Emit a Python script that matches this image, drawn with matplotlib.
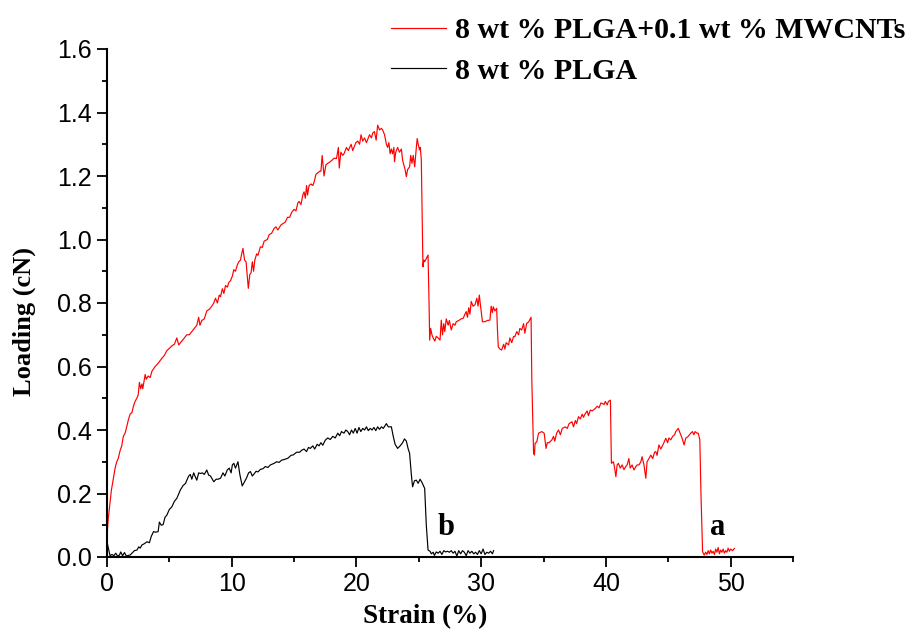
import matplotlib
matplotlib.use("Agg")
import matplotlib.pyplot as plt
from matplotlib.ticker import MultipleLocator

# ---- data: 8 wt % PLGA + 0.1 wt % MWCNTs (curve a) ----
red_strain = [0.00, 0.10, 0.24, 0.35, 0.50, 0.65, 0.78, 0.90, 1.05, 1.18, 1.31, 1.45, 1.58, 1.70, 1.85, 2.00,
              2.12, 2.25, 2.39, 2.50, 2.60, 2.70, 2.80, 2.87, 3.00, 3.06, 3.15, 3.30, 3.46, 3.60, 3.86, 4.10,
              4.40, 4.60, 4.80, 4.94, 5.20, 5.40, 5.60, 5.75, 6.00, 6.20, 6.40, 6.60, 6.80, 7.00, 7.20, 7.35,
              7.45, 7.60, 7.80, 8.00, 8.20, 8.40, 8.56, 8.70, 8.85, 9.00, 9.10, 9.25, 9.37, 9.50, 9.65, 9.77,
              9.90, 10.05, 10.17, 10.30, 10.45, 10.57, 10.70, 10.80, 10.90, 11.03, 11.15, 11.33, 11.45, 11.55,
              11.65, 11.75, 11.85, 12.00, 12.10, 12.30, 12.45, 12.60, 12.86, 13.00, 13.20, 13.40, 13.55, 13.70,
              13.93, 14.10, 14.30, 14.47, 14.65, 14.80, 15.00, 15.15, 15.30, 15.40, 15.55, 15.70, 15.80, 15.90,
              16.00, 16.08, 16.20, 16.35, 16.50, 16.60, 16.75, 16.90, 17.05, 17.15, 17.25, 17.40, 17.55, 17.70,
              17.90, 18.05, 18.20, 18.40, 18.55, 18.62, 18.75, 18.90, 19.00, 19.20, 19.35, 19.57, 19.70, 19.80,
              19.95, 20.10, 20.25, 20.37, 20.50, 20.65, 20.80, 20.90, 21.05, 21.20, 21.30, 21.44, 21.58, 21.70,
              21.85, 22.00, 22.10, 22.25, 22.40, 22.50, 22.60, 22.70, 22.80, 22.90, 23.00, 23.05, 23.15, 23.30,
              23.45, 23.60, 23.70, 23.80, 23.90, 24.00, 24.10, 24.26, 24.35, 24.45, 24.55, 24.67, 24.80, 24.87,
              24.95, 25.06, 25.12, 25.20, 25.33, 25.40, 25.47, 25.60, 25.74, 25.82, 25.87, 25.95, 26.05, 26.15,
              26.28, 26.40, 26.55, 26.70, 26.80, 26.90, 27.00, 27.08, 27.20, 27.35, 27.45, 27.60, 27.75, 27.90,
              28.00, 28.20, 28.40, 28.56, 28.70, 28.80, 28.90, 29.00, 29.10, 29.20, 29.35, 29.50, 29.65, 29.75,
              29.85, 29.95, 30.10, 30.30, 30.50, 30.70, 30.80, 30.90, 30.97, 31.10, 31.24, 31.30, 31.37, 31.50,
              31.64, 31.80, 31.90, 32.00, 32.20, 32.30, 32.45, 32.60, 32.70, 32.85, 33.00, 33.10, 33.25, 33.40,
              33.50, 33.65, 33.80, 34.00, 34.06, 34.20, 34.27, 34.32, 34.46, 34.60, 34.86, 35.05, 35.20, 35.30,
              35.45, 35.67, 35.80, 35.90, 36.05, 36.20, 36.35, 36.50, 36.74, 36.90, 37.05, 37.28, 37.40, 37.55,
              37.65, 37.80, 37.95, 38.10, 38.20, 38.35, 38.50, 38.60, 38.75, 38.90, 39.15, 39.30, 39.45, 39.60,
              39.70, 39.85, 39.95, 40.10, 40.20, 40.36, 40.44, 40.60, 40.70, 40.80, 40.90, 41.00, 41.15, 41.30,
              41.45, 41.57, 41.70, 41.84, 41.95, 42.10, 42.25, 42.40, 42.50, 42.65, 42.80, 42.90, 43.05, 43.20,
              43.30, 43.45, 43.60, 43.75, 43.90, 44.00, 44.10, 44.25, 44.40, 44.50, 44.65, 44.80, 44.95, 45.05,
              45.20, 45.35, 45.50, 45.60, 45.70, 45.80, 45.95, 46.10, 46.27, 46.40, 46.60, 46.80, 46.94, 47.05,
              47.15, 47.30, 47.40, 47.53, 47.62, 47.75, 47.88, 48.00, 48.10, 48.20, 48.30, 48.40, 48.50, 48.60,
              48.70, 48.80, 48.90, 49.00, 49.10, 49.20, 49.30, 49.40, 49.50, 49.60, 49.70, 49.80, 49.90, 50.00,
              50.15, 50.30]
red_load = [0.065, 0.12, 0.17, 0.21, 0.245, 0.28, 0.30, 0.31, 0.335, 0.35, 0.38, 0.39, 0.41, 0.43, 0.45, 0.455,
            0.475, 0.49, 0.50, 0.51, 0.55, 0.53, 0.545, 0.53, 0.56, 0.575, 0.56, 0.57, 0.565, 0.585, 0.60, 0.61,
            0.626, 0.635, 0.65, 0.655, 0.665, 0.67, 0.69, 0.668, 0.68, 0.69, 0.70, 0.70, 0.71, 0.72, 0.73, 0.755,
            0.73, 0.745, 0.75, 0.775, 0.78, 0.79, 0.80, 0.815, 0.80, 0.825, 0.82, 0.845, 0.83, 0.855, 0.85, 0.865,
            0.87, 0.885, 0.905, 0.90, 0.92, 0.93, 0.935, 0.955, 0.972, 0.935, 0.93, 0.846, 0.89, 0.895,
            0.93, 0.90, 0.935, 0.955, 0.95, 0.977, 0.975, 0.995, 1.00, 1.015, 1.02, 1.035, 1.04, 1.03,
            1.045, 1.05, 1.055, 1.07, 1.07, 1.085, 1.095, 1.09, 1.115, 1.12, 1.11, 1.14, 1.15, 1.13,
            1.17, 1.14, 1.17, 1.175, 1.17, 1.18, 1.205, 1.21, 1.215, 1.215, 1.265, 1.20, 1.235, 1.24,
            1.245, 1.25, 1.256, 1.255, 1.29, 1.225, 1.275, 1.265, 1.27, 1.29, 1.28, 1.30, 1.28, 1.29,
            1.305, 1.31, 1.30, 1.33, 1.31, 1.32, 1.305, 1.315, 1.33, 1.32, 1.335, 1.34, 1.313, 1.36,
            1.345, 1.35, 1.345, 1.33, 1.30, 1.29, 1.305, 1.27, 1.285, 1.27, 1.29, 1.245, 1.275, 1.29,
            1.275, 1.285, 1.25, 1.235, 1.22, 1.198, 1.22, 1.229, 1.265, 1.24, 1.265, 1.229, 1.29, 1.318,
            1.30, 1.282, 1.29, 1.25, 0.914, 0.935, 0.93, 0.94, 0.951, 0.80, 0.683, 0.72, 0.70, 0.69,
            0.68, 0.695, 0.69, 0.683, 0.746, 0.70, 0.735, 0.71, 0.75, 0.73, 0.745, 0.715, 0.735, 0.73,
            0.741, 0.745, 0.75, 0.752, 0.765, 0.773, 0.755, 0.785, 0.765, 0.805, 0.79, 0.794, 0.815, 0.79,
            0.825, 0.79, 0.741, 0.741, 0.745, 0.746, 0.79, 0.77, 0.788, 0.775, 0.783, 0.72, 0.662, 0.655,
            0.652, 0.67, 0.655, 0.675, 0.668, 0.69, 0.675, 0.695, 0.694, 0.71, 0.70, 0.72, 0.715, 0.735,
            0.705, 0.736, 0.74, 0.755, 0.557, 0.327, 0.321, 0.358, 0.363, 0.39, 0.395, 0.39, 0.342, 0.36,
            0.36, 0.369, 0.38, 0.365, 0.39, 0.40, 0.385, 0.405, 0.41, 0.405, 0.42, 0.426, 0.41, 0.43,
            0.42, 0.442, 0.435, 0.45, 0.44, 0.452, 0.46, 0.445, 0.463, 0.46, 0.468, 0.475, 0.47, 0.485,
            0.484, 0.48, 0.49, 0.479, 0.49, 0.494, 0.295, 0.30, 0.28, 0.253, 0.29, 0.295, 0.28, 0.29,
            0.275, 0.284, 0.29, 0.31, 0.28, 0.29, 0.274, 0.285, 0.29, 0.29, 0.30, 0.316, 0.29, 0.248,
            0.30, 0.31, 0.321, 0.31, 0.33, 0.332, 0.32, 0.353, 0.34, 0.348, 0.36, 0.374, 0.36, 0.375,
            0.369, 0.38, 0.385, 0.395, 0.40, 0.405, 0.39, 0.375, 0.353, 0.374, 0.38, 0.39, 0.395, 0.385,
            0.395, 0.39, 0.39, 0.369, 0.20, 0.017, 0.006, 0.015, 0.008, 0.02, 0.01, 0.022, 0.012, 0.018,
            0.008, 0.025, 0.015, 0.03, 0.01, 0.022, 0.015, 0.025, 0.012, 0.02, 0.015, 0.028, 0.018, 0.025,
            0.02, 0.027]

# ---- data: 8 wt % PLGA (curve b) ----
black_strain = [0.00, 0.10, 0.24, 0.40, 0.55, 0.70, 0.85, 1.00, 1.10, 1.25, 1.40, 1.55, 1.70, 1.85, 2.00, 2.20,
                2.40, 2.55, 2.66, 2.80, 3.00, 3.20, 3.40, 3.55, 3.73, 3.90, 4.10, 4.20, 4.35, 4.50, 4.65, 4.80,
                5.00, 5.20, 5.40, 5.60, 5.88, 6.10, 6.30, 6.40, 6.55, 6.68, 6.80, 6.95, 7.05, 7.20, 7.35, 7.49,
                7.65, 7.80, 8.00, 8.15, 8.30, 8.56, 8.75, 8.90, 9.10, 9.30, 9.45, 9.64, 9.80, 9.95, 10.05, 10.17,
                10.30, 10.50, 10.65, 10.84, 11.00, 11.20, 11.35, 11.50, 11.65, 11.80, 11.95, 12.10, 12.30, 12.50,
                12.70, 12.90, 13.10, 13.40, 13.60, 13.80, 14.00, 14.20, 14.50, 14.75, 14.95, 15.20, 15.45, 15.60,
                15.80, 16.00, 16.15, 16.30, 16.50, 16.65, 16.85, 17.00, 17.15, 17.30, 17.50, 17.70, 17.90, 18.10,
                18.30, 18.50, 18.65, 18.80, 19.00, 19.15, 19.30, 19.45, 19.60, 19.75, 19.90, 20.05, 20.20, 20.35,
                20.50, 20.65, 20.80, 20.95, 21.10, 21.25, 21.40, 21.55, 21.70, 21.85, 22.00, 22.15, 22.40, 22.55,
                22.80, 22.95, 23.10, 23.30, 23.50, 23.70, 23.85, 24.00, 24.15, 24.26, 24.40, 24.50, 24.65, 24.80,
                24.95, 25.10, 25.25, 25.47, 25.60, 25.74, 25.90, 26.00, 26.15, 26.25, 26.40, 26.55, 26.70, 26.85,
                27.00, 27.15, 27.30, 27.45, 27.60, 27.75, 27.90, 28.05, 28.20, 28.35, 28.50, 28.65, 28.80, 28.95,
                29.10, 29.25, 29.40, 29.55, 29.70, 29.85, 30.00, 30.15, 30.30, 30.45, 30.60, 30.75, 30.90, 31.00]
black_load = [0.048, 0.03, 0.004, 0.008, 0.004, 0.012, 0.003, 0.006, 0.016, 0.004, 0.014, 0.003, 0.005, 0.006, 0.012, 0.02,
              0.022, 0.032, 0.028, 0.038, 0.042, 0.048, 0.045, 0.065, 0.08, 0.078, 0.08, 0.11, 0.10, 0.102, 0.125, 0.132,
              0.15, 0.158, 0.175, 0.185, 0.211, 0.225, 0.232, 0.242, 0.255, 0.26, 0.245, 0.265, 0.255, 0.242, 0.265, 0.263,
              0.265, 0.26, 0.274, 0.258, 0.255, 0.237, 0.245, 0.245, 0.248, 0.265, 0.255, 0.274, 0.28, 0.265, 0.29, 0.295,
              0.28, 0.30, 0.26, 0.224, 0.235, 0.25, 0.265, 0.269, 0.255, 0.262, 0.27, 0.268, 0.276, 0.278,
              0.285, 0.282, 0.29, 0.295, 0.30, 0.298, 0.305, 0.307, 0.311, 0.32, 0.322, 0.33, 0.33, 0.336,
              0.34, 0.332, 0.345, 0.342, 0.35, 0.34, 0.355, 0.35, 0.36, 0.352, 0.368, 0.375, 0.37, 0.38,
              0.375, 0.39, 0.382, 0.395, 0.39, 0.40, 0.395, 0.385, 0.40, 0.39, 0.405, 0.39, 0.408, 0.395,
              0.405, 0.40, 0.41, 0.398, 0.405, 0.40, 0.408, 0.398, 0.41, 0.402, 0.41, 0.405, 0.42, 0.41,
              0.41, 0.38, 0.355, 0.342, 0.35, 0.36, 0.372, 0.365, 0.34, 0.327, 0.26, 0.221, 0.24, 0.242,
              0.232, 0.245, 0.235, 0.216, 0.10, 0.022, 0.018, 0.01, 0.015, 0.005, 0.016, 0.012, 0.018, 0.008,
              0.02, 0.016, 0.018, 0.015, 0.02, 0.012, 0.018, 0.003, 0.02, 0.01, 0.02, 0.015, 0.004, 0.02,
              0.012, 0.018, 0.01, 0.015, 0.008, 0.02, 0.01, 0.025, 0.008, 0.015, 0.012, 0.018, 0.01, 0.02]

labels = ["8 wt % PLGA+0.1 wt % MWCNTs", "8 wt % PLGA"]
x_ticks = [0, 10, 20, 30, 40, 50]
y_ticks = [0.0, 0.2, 0.4, 0.6, 0.8, 1.0, 1.2, 1.4, 1.6]

serif = ["Liberation Serif", "DejaVu Serif"]
sans = ["Liberation Sans", "DejaVu Sans"]

fig = plt.figure(figsize=(9.07, 6.30), dpi=100)
ax = fig.add_axes([107 / 907, 1 - 557 / 630, (793 - 107) / 907, (557 - 49) / 630])

ax.plot(red_strain, red_load, color="#ff0000", lw=0.85, label=labels[0])
ax.plot(black_strain, black_load, color="#000000", lw=0.85, label=labels[1])

ax.set_xlim(0, 55)
ax.set_ylim(0, 1.6)
ax.set_xticks(x_ticks)
ax.set_yticks(y_ticks)
ax.set_xticklabels([str(v) for v in x_ticks], family=sans, fontsize=18)
ax.set_yticklabels([f"{v:.1f}" for v in y_ticks], family=sans, fontsize=18)
ax.xaxis.set_minor_locator(MultipleLocator(5))
ax.yaxis.set_minor_locator(MultipleLocator(0.1))
ax.tick_params(which="major", direction="out", length=7, width=1.3, pad=4)
ax.tick_params(which="minor", direction="out", length=3.8, width=1.3)

for s in ["top", "right"]:
    ax.spines[s].set_visible(False)
for s in ["left", "bottom"]:
    ax.spines[s].set_linewidth(1.5)

ax.set_xlabel("Strain (%)", family=serif, fontweight="bold", fontsize=19.5)
ax.set_ylabel("Loading (cN)", family=serif, fontweight="bold", fontsize=19)
ax.xaxis.set_label_coords(0.4636, -0.092)
ax.yaxis.set_label_coords(-0.104, 0.463)

ax.text(27.2, 0.094, "b", family=serif, fontweight="bold", fontsize=22, ha="center", va="center")
ax.text(49.0, 0.094, "a", family=serif, fontweight="bold", fontsize=22, ha="center", va="center")

leg = ax.legend(loc="upper left", bbox_to_anchor=(391 / 907, 1 - 17 / 630), bbox_transform=fig.transFigure,
                frameon=False, handlelength=1.84, handletextpad=0.3, labelspacing=0.46, borderpad=0,
                borderaxespad=0, prop={"family": serif, "weight": "bold", "size": 21.5})
ax.patch.set_alpha(0)

fig.savefig("out.png", dpi=100)
